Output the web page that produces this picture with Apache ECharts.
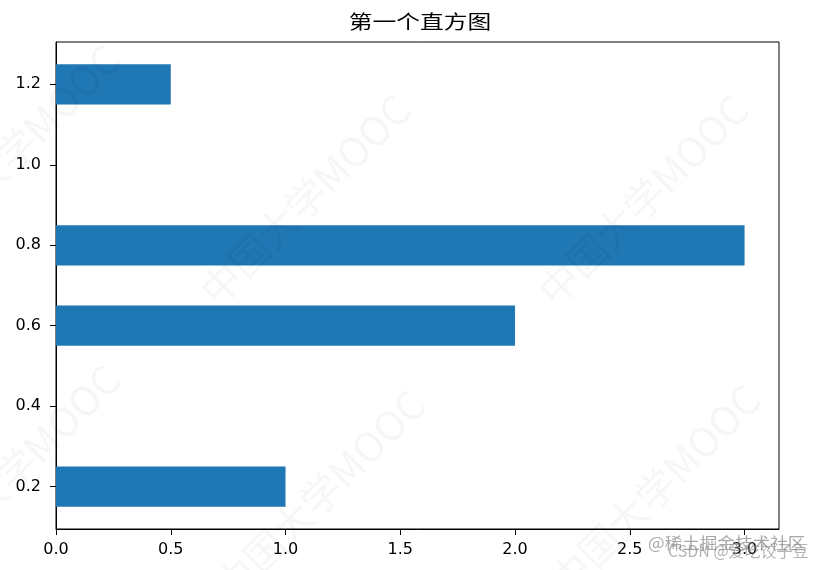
<!DOCTYPE html>
<html><head><meta charset="utf-8">
<script src="https://cdn.jsdelivr.net/npm/echarts@6/dist/echarts.min.js"></script>
<style>html,body{margin:0;padding:0;background:#fff}#c{width:820px;height:570px}</style>
</head><body><div id="c"></div>
<script>
const title = '第一个直方图';
const yPositions = [0.2, 0.6, 0.8, 1.2];
const barValues = [1, 2, 3, 0.5];
const barHeight = 0.1;
const xTicks = [0, 0.5, 1.0, 1.5, 2.0, 2.5, 3.0];
const yTicks = [0.2, 0.4, 0.6, 0.8, 1.0, 1.2];
const xRange = [0, 3.15];
const yRange = [0.095, 1.305];

const FONT = '"Noto Sans CJK SC", "DejaVu Sans", sans-serif';
const TICKFONT = '"DejaVu Sans", sans-serif';
const chart = echarts.init(document.getElementById('c'), null, {renderer: 'canvas'});

const data = yPositions.map((y, i) => [barValues[i], y]);

const wm = [];
wm.push({type: 'text', x: 420, y: 22, scaleX: 1.25, z: 100,
  style: {text: title, font: '19px ' + FONT, fill: '#000', align: 'center', verticalAlign: 'middle'}});
const wmPos = [[305, 200], [643, 200], [320, 495], [655, 490], [15, 150], [15, 470]];
wmPos.forEach(p => wm.push({
  type: 'text', x: p[0], y: p[1], rotation: Math.PI / 4, z: 100,
  style: {text: '中国大学MOOC', font: '40px ' + FONT, fill: 'rgba(0,0,0,0.035)', align: 'center', verticalAlign: 'middle'}
}));
wm.push({type: 'text', x: 648, y: 543, scaleX: 1.1, z: 100,
  style: {text: '@稀土掘金技术社区', font: '16px ' + FONT, fill: 'rgba(130,130,130,0.7)', verticalAlign: 'middle'}});
wm.push({type: 'text', x: 668, y: 551, z: 100,
  style: {text: 'CSDN @爱吃饺子豆', font: '16px ' + FONT, fill: 'rgba(130,130,130,0.6)', verticalAlign: 'middle'}});

chart.setOption({
  animation: false,
  backgroundColor: '#fff',
  grid: {left: 56, right: 41, top: 42, bottom: 41, show: true, borderColor: '#000', borderWidth: 1, backgroundColor: 'transparent'},
  xAxis: {type: 'value', min: xRange[0], max: xRange[1],
    axisLine: {show: true, onZero: false, lineStyle: {color: '#000', width: 1}},
    axisTick: {show: true, length: 6, customValues: xTicks, lineStyle: {color: '#000'}},
    axisLabel: {customValues: xTicks, formatter: v => v.toFixed(1), color: '#000', fontSize: 16, fontFamily: TICKFONT, margin: 13},
    splitLine: {show: false}},
  yAxis: {type: 'value', min: yRange[0], max: yRange[1],
    axisLine: {show: true, onZero: false, lineStyle: {color: '#000', width: 1}},
    axisTick: {show: true, length: 6, customValues: yTicks, lineStyle: {color: '#000'}},
    axisLabel: {customValues: yTicks, formatter: v => v.toFixed(1), color: '#000', fontSize: 16, fontFamily: TICKFONT, margin: 15},
    splitLine: {show: false}},
  series: [{
    type: 'custom',
    data: data,
    renderItem: function (params, api) {
      const x = api.value(0), y = api.value(1);
      const p0 = api.coord([0, y + barHeight / 2]);
      const p1 = api.coord([x, y - barHeight / 2]);
      return {type: 'rect', shape: {x: p0[0], y: p0[1], width: p1[0] - p0[0], height: p1[1] - p0[1]},
        style: {fill: '#1f77b4'}};
    }
  }],
  graphic: wm
});
</script></body></html>
